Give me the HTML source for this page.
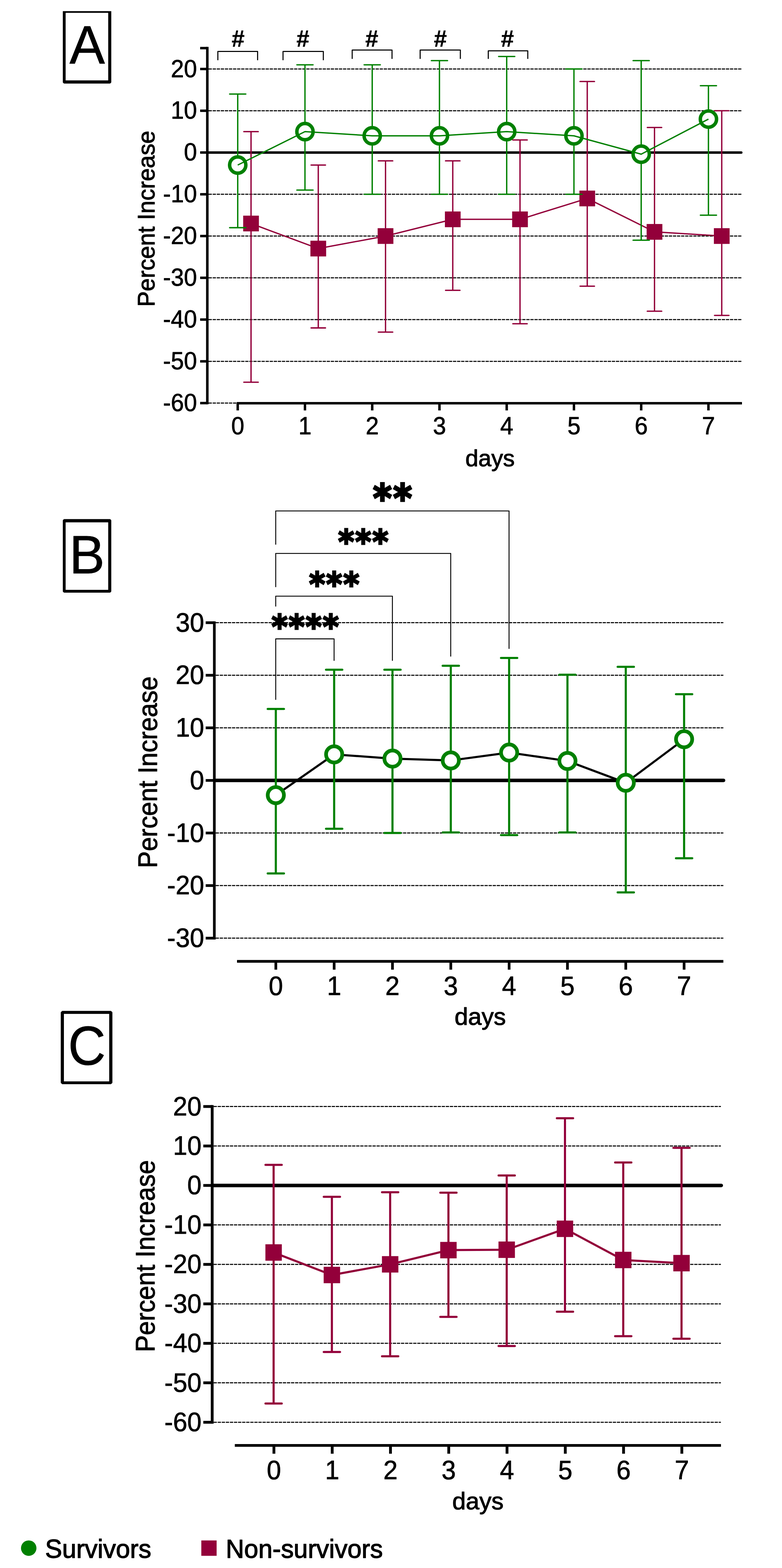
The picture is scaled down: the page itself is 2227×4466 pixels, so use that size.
<!DOCTYPE html>
<html lang="en"><head><meta charset="utf-8"><title>Percent Increase over days: Survivors vs Non-survivors</title>
<style>html,body{margin:0;padding:0;background:#fff}svg{display:block}text{fill:#000;stroke:#000;stroke-linejoin:round}.t{font-family:"Liberation Sans",Arial,Helvetica,sans-serif;stroke-width:1.1px}.h{font-family:"Liberation Sans",Arial,Helvetica,sans-serif;font-weight:bold;stroke-width:.7px}.s{font-family:"DejaVu Sans","Liberation Sans",sans-serif;font-weight:bold;stroke-width:2.4px;stroke-linejoin:miter}</style>
</head><body>
<svg width="2227" height="4466" viewBox="0 0 2227 4466">
<rect width="2227" height="4466" fill="#fff"/>
<path d="M178.9 31.7 L316.9 31.7 L316.9 234.8 L313.7 238 L182.1 238 L178.9 234.8Z M186.9 36.6 V228.9 H308.2 V36.6Z" fill="#000" fill-rule="evenodd"/>
<text class="t" transform="translate(248.4 181.3) scale(0.98 1)" font-size="154" text-anchor="middle">A</text>
<path d="M182.1 1478.6 L313.7 1478.6 L316.9 1481.8 L316.9 1684.8 L313.7 1688 L182.1 1688 L178.9 1684.8 L178.9 1481.8Z M186.9 1487.7 V1679.9 H308.2 V1487.7Z" fill="#000" fill-rule="evenodd"/>
<text class="t" transform="translate(247.8 1632.5) scale(0.98 1)" font-size="154.5" text-anchor="middle">B</text>
<path d="M177 2879.2 L316.1 2879.2 L320.1 2883.2 L320.1 3084 L316.1 3088 L177 3088 L173 3084 L173 2883.2Z M182 2887.7 V3079.9 H311 V2887.7Z" fill="#000" fill-rule="evenodd"/>
<text class="t" transform="translate(247.5 3031.6) scale(0.955 1)" font-size="155" text-anchor="middle">C</text>
<line x1="594" y1="196.5" x2="2113" y2="196.5" stroke="#000" stroke-width="3" stroke-dasharray="9.3 2.3"/>
<line x1="594" y1="315.45" x2="2113" y2="315.45" stroke="#000" stroke-width="3" stroke-dasharray="9.3 2.3"/>
<line x1="594" y1="553.35" x2="2113" y2="553.35" stroke="#000" stroke-width="3" stroke-dasharray="9.3 2.3"/>
<line x1="594" y1="672.3" x2="2113" y2="672.3" stroke="#000" stroke-width="3" stroke-dasharray="9.3 2.3"/>
<line x1="594" y1="791.25" x2="2113" y2="791.25" stroke="#000" stroke-width="3" stroke-dasharray="9.3 2.3"/>
<line x1="594" y1="910.2" x2="2113" y2="910.2" stroke="#000" stroke-width="3" stroke-dasharray="9.3 2.3"/>
<line x1="594" y1="1029.15" x2="2113" y2="1029.15" stroke="#000" stroke-width="3" stroke-dasharray="9.3 2.3"/>
<line x1="594" y1="1148.1" x2="676" y2="1148.1" stroke="#000" stroke-width="3" stroke-dasharray="9.3 2.3"/>
<line x1="594" y1="434.4" x2="2111" y2="434.4" stroke="#000" stroke-width="7" stroke-linecap="round"/>
<line x1="590.4" y1="133.52" x2="590.4" y2="1151.6" stroke="#000" stroke-width="7.2" stroke-linecap="butt"/>
<line x1="570" y1="137.02" x2="590.4" y2="137.02" stroke="#000" stroke-width="7" stroke-linecap="butt"/>
<line x1="570" y1="196.5" x2="590.4" y2="196.5" stroke="#000" stroke-width="7" stroke-linecap="butt"/>
<line x1="570" y1="315.45" x2="590.4" y2="315.45" stroke="#000" stroke-width="7" stroke-linecap="butt"/>
<line x1="570" y1="434.4" x2="590.4" y2="434.4" stroke="#000" stroke-width="7" stroke-linecap="butt"/>
<line x1="570" y1="553.35" x2="590.4" y2="553.35" stroke="#000" stroke-width="7" stroke-linecap="butt"/>
<line x1="570" y1="672.3" x2="590.4" y2="672.3" stroke="#000" stroke-width="7" stroke-linecap="butt"/>
<line x1="570" y1="791.25" x2="590.4" y2="791.25" stroke="#000" stroke-width="7" stroke-linecap="butt"/>
<line x1="570" y1="910.2" x2="590.4" y2="910.2" stroke="#000" stroke-width="7" stroke-linecap="butt"/>
<line x1="570" y1="1029.15" x2="590.4" y2="1029.15" stroke="#000" stroke-width="7" stroke-linecap="butt"/>
<line x1="570" y1="1148.1" x2="590.4" y2="1148.1" stroke="#000" stroke-width="7" stroke-linecap="butt"/>
<text class="t" transform="translate(561 219.5) scale(0.963 1)" font-size="69.5" text-anchor="end">20</text>
<text class="t" transform="translate(561 338.45) scale(0.963 1)" font-size="69.5" text-anchor="end">10</text>
<text class="t" transform="translate(561 457.4) scale(0.963 1)" font-size="69.5" text-anchor="end">0</text>
<text class="t" transform="translate(561 576.35) scale(0.963 1)" font-size="69.5" text-anchor="end">-10</text>
<text class="t" transform="translate(561 695.3) scale(0.963 1)" font-size="69.5" text-anchor="end">-20</text>
<text class="t" transform="translate(561 814.25) scale(0.963 1)" font-size="69.5" text-anchor="end">-30</text>
<text class="t" transform="translate(561 933.2) scale(0.963 1)" font-size="69.5" text-anchor="end">-40</text>
<text class="t" transform="translate(561 1052.15) scale(0.963 1)" font-size="69.5" text-anchor="end">-50</text>
<text class="t" transform="translate(561 1171.1) scale(0.963 1)" font-size="69.5" text-anchor="end">-60</text>
<line x1="674" y1="1148.4" x2="2113" y2="1148.4" stroke="#000" stroke-width="7" stroke-linecap="butt"/>
<line x1="677" y1="1148.4" x2="677" y2="1169" stroke="#000" stroke-width="7" stroke-linecap="butt"/>
<text class="t" transform="translate(677 1237.1) scale(0.963 1)" font-size="69.5" text-anchor="middle">0</text>
<line x1="868.5" y1="1148.4" x2="868.5" y2="1169" stroke="#000" stroke-width="7" stroke-linecap="butt"/>
<text class="t" transform="translate(868.5 1237.1) scale(0.963 1)" font-size="69.5" text-anchor="middle">1</text>
<line x1="1060" y1="1148.4" x2="1060" y2="1169" stroke="#000" stroke-width="7" stroke-linecap="butt"/>
<text class="t" transform="translate(1060 1237.1) scale(0.963 1)" font-size="69.5" text-anchor="middle">2</text>
<line x1="1251.5" y1="1148.4" x2="1251.5" y2="1169" stroke="#000" stroke-width="7" stroke-linecap="butt"/>
<text class="t" transform="translate(1251.5 1237.1) scale(0.963 1)" font-size="69.5" text-anchor="middle">3</text>
<line x1="1443" y1="1148.4" x2="1443" y2="1169" stroke="#000" stroke-width="7" stroke-linecap="butt"/>
<text class="t" transform="translate(1443 1237.1) scale(0.963 1)" font-size="69.5" text-anchor="middle">4</text>
<line x1="1634.5" y1="1148.4" x2="1634.5" y2="1169" stroke="#000" stroke-width="7" stroke-linecap="butt"/>
<text class="t" transform="translate(1634.5 1237.1) scale(0.963 1)" font-size="69.5" text-anchor="middle">5</text>
<line x1="1826" y1="1148.4" x2="1826" y2="1169" stroke="#000" stroke-width="7" stroke-linecap="butt"/>
<text class="t" transform="translate(1826 1237.1) scale(0.963 1)" font-size="69.5" text-anchor="middle">6</text>
<line x1="2017.5" y1="1148.4" x2="2017.5" y2="1169" stroke="#000" stroke-width="7" stroke-linecap="butt"/>
<text class="t" transform="translate(2017.5 1237.1) scale(0.963 1)" font-size="69.5" text-anchor="middle">7</text>
<text class="t" transform="translate(1395.6 1328.2)" font-size="66.5" text-anchor="middle" style="stroke-width:1.5px">days</text>
<text class="t" transform="translate(439.6 623) rotate(-90) scale(0.956 1)" font-size="69.4" text-anchor="middle" style="stroke-width:1.5px">Percent Increase</text>
<line x1="714.9" y1="374.92" x2="714.9" y2="1088.62" stroke="#93003A" stroke-width="3.8" stroke-linecap="butt"/>
<line x1="694.4" y1="374.92" x2="735.4" y2="374.92" stroke="#93003A" stroke-width="3.8" stroke-linecap="round"/>
<line x1="694.4" y1="1088.62" x2="735.4" y2="1088.62" stroke="#93003A" stroke-width="3.8" stroke-linecap="round"/>
<line x1="906.4" y1="470.08" x2="906.4" y2="933.99" stroke="#93003A" stroke-width="3.8" stroke-linecap="butt"/>
<line x1="885.9" y1="470.08" x2="926.9" y2="470.08" stroke="#93003A" stroke-width="3.8" stroke-linecap="round"/>
<line x1="885.9" y1="933.99" x2="926.9" y2="933.99" stroke="#93003A" stroke-width="3.8" stroke-linecap="round"/>
<line x1="1097.9" y1="458.19" x2="1097.9" y2="945.88" stroke="#93003A" stroke-width="3.8" stroke-linecap="butt"/>
<line x1="1077.4" y1="458.19" x2="1118.4" y2="458.19" stroke="#93003A" stroke-width="3.8" stroke-linecap="round"/>
<line x1="1077.4" y1="945.88" x2="1118.4" y2="945.88" stroke="#93003A" stroke-width="3.8" stroke-linecap="round"/>
<line x1="1289.4" y1="458.19" x2="1289.4" y2="826.93" stroke="#93003A" stroke-width="3.8" stroke-linecap="butt"/>
<line x1="1268.9" y1="458.19" x2="1309.9" y2="458.19" stroke="#93003A" stroke-width="3.8" stroke-linecap="round"/>
<line x1="1268.9" y1="826.93" x2="1309.9" y2="826.93" stroke="#93003A" stroke-width="3.8" stroke-linecap="round"/>
<line x1="1480.9" y1="398.71" x2="1480.9" y2="922.1" stroke="#93003A" stroke-width="3.8" stroke-linecap="butt"/>
<line x1="1460.4" y1="398.71" x2="1501.4" y2="398.71" stroke="#93003A" stroke-width="3.8" stroke-linecap="round"/>
<line x1="1460.4" y1="922.1" x2="1501.4" y2="922.1" stroke="#93003A" stroke-width="3.8" stroke-linecap="round"/>
<line x1="1672.4" y1="232.18" x2="1672.4" y2="815.04" stroke="#93003A" stroke-width="3.8" stroke-linecap="butt"/>
<line x1="1651.9" y1="232.18" x2="1692.9" y2="232.18" stroke="#93003A" stroke-width="3.8" stroke-linecap="round"/>
<line x1="1651.9" y1="815.04" x2="1692.9" y2="815.04" stroke="#93003A" stroke-width="3.8" stroke-linecap="round"/>
<line x1="1863.9" y1="363.03" x2="1863.9" y2="886.41" stroke="#93003A" stroke-width="3.8" stroke-linecap="butt"/>
<line x1="1843.4" y1="363.03" x2="1884.4" y2="363.03" stroke="#93003A" stroke-width="3.8" stroke-linecap="round"/>
<line x1="1843.4" y1="886.41" x2="1884.4" y2="886.41" stroke="#93003A" stroke-width="3.8" stroke-linecap="round"/>
<line x1="2055.4" y1="315.45" x2="2055.4" y2="898.3" stroke="#93003A" stroke-width="3.8" stroke-linecap="butt"/>
<line x1="2034.9" y1="315.45" x2="2075.9" y2="315.45" stroke="#93003A" stroke-width="3.8" stroke-linecap="round"/>
<line x1="2034.9" y1="898.3" x2="2075.9" y2="898.3" stroke="#93003A" stroke-width="3.8" stroke-linecap="round"/>
<polyline points="714.9,636.62 906.4,707.98 1097.9,672.3 1289.4,624.72 1480.9,624.72 1672.4,565.25 1863.9,660.4 2055.4,672.3" fill="none" stroke="#93003A" stroke-width="3.8" stroke-linejoin="round"/>
<rect x="692.5" y="614.22" width="44.8" height="44.8" fill="#93003A"/>
<rect x="884" y="685.58" width="44.8" height="44.8" fill="#93003A"/>
<rect x="1075.5" y="649.9" width="44.8" height="44.8" fill="#93003A"/>
<rect x="1267" y="602.32" width="44.8" height="44.8" fill="#93003A"/>
<rect x="1458.5" y="602.32" width="44.8" height="44.8" fill="#93003A"/>
<rect x="1650" y="542.85" width="44.8" height="44.8" fill="#93003A"/>
<rect x="1841.5" y="638" width="44.8" height="44.8" fill="#93003A"/>
<rect x="2033" y="649.9" width="44.8" height="44.8" fill="#93003A"/>
<line x1="677" y1="267.87" x2="677" y2="648.51" stroke="#008000" stroke-width="3.8" stroke-linecap="butt"/>
<line x1="654" y1="267.87" x2="700" y2="267.87" stroke="#008000" stroke-width="3.8" stroke-linecap="round"/>
<line x1="654" y1="648.51" x2="700" y2="648.51" stroke="#008000" stroke-width="3.8" stroke-linecap="round"/>
<line x1="868.5" y1="184.6" x2="868.5" y2="541.45" stroke="#008000" stroke-width="3.8" stroke-linecap="butt"/>
<line x1="845.5" y1="184.6" x2="891.5" y2="184.6" stroke="#008000" stroke-width="3.8" stroke-linecap="round"/>
<line x1="845.5" y1="541.45" x2="891.5" y2="541.45" stroke="#008000" stroke-width="3.8" stroke-linecap="round"/>
<line x1="1060" y1="184.6" x2="1060" y2="553.35" stroke="#008000" stroke-width="3.8" stroke-linecap="butt"/>
<line x1="1037" y1="184.6" x2="1083" y2="184.6" stroke="#008000" stroke-width="3.8" stroke-linecap="round"/>
<line x1="1037" y1="553.35" x2="1083" y2="553.35" stroke="#008000" stroke-width="3.8" stroke-linecap="round"/>
<line x1="1251.5" y1="172.71" x2="1251.5" y2="553.35" stroke="#008000" stroke-width="3.8" stroke-linecap="butt"/>
<line x1="1228.5" y1="172.71" x2="1274.5" y2="172.71" stroke="#008000" stroke-width="3.8" stroke-linecap="round"/>
<line x1="1228.5" y1="553.35" x2="1274.5" y2="553.35" stroke="#008000" stroke-width="3.8" stroke-linecap="round"/>
<line x1="1443" y1="160.81" x2="1443" y2="553.35" stroke="#008000" stroke-width="3.8" stroke-linecap="butt"/>
<line x1="1420" y1="160.81" x2="1466" y2="160.81" stroke="#008000" stroke-width="3.8" stroke-linecap="round"/>
<line x1="1420" y1="553.35" x2="1466" y2="553.35" stroke="#008000" stroke-width="3.8" stroke-linecap="round"/>
<line x1="1634.5" y1="196.5" x2="1634.5" y2="553.35" stroke="#008000" stroke-width="3.8" stroke-linecap="butt"/>
<line x1="1611.5" y1="196.5" x2="1657.5" y2="196.5" stroke="#008000" stroke-width="3.8" stroke-linecap="round"/>
<line x1="1611.5" y1="553.35" x2="1657.5" y2="553.35" stroke="#008000" stroke-width="3.8" stroke-linecap="round"/>
<line x1="1826" y1="172.71" x2="1826" y2="684.19" stroke="#008000" stroke-width="3.8" stroke-linecap="butt"/>
<line x1="1803" y1="172.71" x2="1849" y2="172.71" stroke="#008000" stroke-width="3.8" stroke-linecap="round"/>
<line x1="1803" y1="684.19" x2="1849" y2="684.19" stroke="#008000" stroke-width="3.8" stroke-linecap="round"/>
<line x1="2017.5" y1="244.08" x2="2017.5" y2="612.82" stroke="#008000" stroke-width="3.8" stroke-linecap="butt"/>
<line x1="1994.5" y1="244.08" x2="2040.5" y2="244.08" stroke="#008000" stroke-width="3.8" stroke-linecap="round"/>
<line x1="1994.5" y1="612.82" x2="2040.5" y2="612.82" stroke="#008000" stroke-width="3.8" stroke-linecap="round"/>
<circle cx="677" cy="470.08" r="23.1" fill="#fff" stroke="#008000" stroke-width="9.9"/>
<circle cx="868.5" cy="374.92" r="23.1" fill="#fff" stroke="#008000" stroke-width="9.9"/>
<circle cx="1060" cy="386.82" r="23.1" fill="#fff" stroke="#008000" stroke-width="9.9"/>
<circle cx="1251.5" cy="386.82" r="23.1" fill="#fff" stroke="#008000" stroke-width="9.9"/>
<circle cx="1443" cy="374.92" r="23.1" fill="#fff" stroke="#008000" stroke-width="9.9"/>
<circle cx="1634.5" cy="386.82" r="23.1" fill="#fff" stroke="#008000" stroke-width="9.9"/>
<circle cx="1826" cy="439.16" r="23.1" fill="#fff" stroke="#008000" stroke-width="9.9"/>
<circle cx="2017.5" cy="339.24" r="23.1" fill="#fff" stroke="#008000" stroke-width="9.9"/>
<polyline points="677,470.08 868.5,374.92 1060,386.82 1251.5,386.82 1443,374.92 1634.5,386.82 1826,439.16 2017.5,339.24" fill="none" stroke="#008000" stroke-width="3.8" stroke-linejoin="round"/>
<polyline points="620.4,171.6 620.4,146.4 733.6,146.4 733.6,171.6" fill="none" stroke="#000" stroke-width="3" stroke-linejoin="round"/>
<text class="h" transform="translate(678 133.3)" font-size="66" text-anchor="middle">#</text>
<polyline points="806,171.6 806,146.4 920.8,146.4 920.8,171.6" fill="none" stroke="#000" stroke-width="3" stroke-linejoin="round"/>
<text class="h" transform="translate(862.5 133.3)" font-size="66" text-anchor="middle">#</text>
<polyline points="1003,167.8 1003,142.6 1116.4,142.6 1116.4,167.8" fill="none" stroke="#000" stroke-width="3" stroke-linejoin="round"/>
<text class="h" transform="translate(1058.8 133.3)" font-size="66" text-anchor="middle">#</text>
<polyline points="1196.5,167.8 1196.5,142.6 1311,142.6 1311,167.8" fill="none" stroke="#000" stroke-width="3" stroke-linejoin="round"/>
<text class="h" transform="translate(1254 133.3)" font-size="66" text-anchor="middle">#</text>
<polyline points="1390.5,167.8 1390.5,144.8 1503,144.8 1503,167.8" fill="none" stroke="#000" stroke-width="3" stroke-linejoin="round"/>
<text class="h" transform="translate(1445 133.3)" font-size="66" text-anchor="middle">#</text>
<line x1="614.2" y1="1773.55" x2="2060" y2="1773.55" stroke="#000" stroke-width="3" stroke-dasharray="9.3 2.3"/>
<line x1="614.2" y1="1923.3" x2="2060" y2="1923.3" stroke="#000" stroke-width="3" stroke-dasharray="9.3 2.3"/>
<line x1="614.2" y1="2073.05" x2="2060" y2="2073.05" stroke="#000" stroke-width="3" stroke-dasharray="9.3 2.3"/>
<line x1="614.2" y1="2372.55" x2="2060" y2="2372.55" stroke="#000" stroke-width="3" stroke-dasharray="9.3 2.3"/>
<line x1="614.2" y1="2522.3" x2="2060" y2="2522.3" stroke="#000" stroke-width="3" stroke-dasharray="9.3 2.3"/>
<line x1="614.2" y1="2672.05" x2="2060" y2="2672.05" stroke="#000" stroke-width="3" stroke-dasharray="9.3 2.3"/>
<line x1="614.2" y1="2222.8" x2="2060.5" y2="2222.8" stroke="#000" stroke-width="10" stroke-linecap="round"/>
<line x1="610.4" y1="1769.7" x2="610.4" y2="2675.9" stroke="#000" stroke-width="7.6" stroke-linecap="butt"/>
<line x1="585.8" y1="1773.55" x2="610.4" y2="1773.55" stroke="#000" stroke-width="7.7" stroke-linecap="butt"/>
<line x1="585.8" y1="1923.3" x2="610.4" y2="1923.3" stroke="#000" stroke-width="7.7" stroke-linecap="butt"/>
<line x1="585.8" y1="2073.05" x2="610.4" y2="2073.05" stroke="#000" stroke-width="7.7" stroke-linecap="butt"/>
<line x1="585.8" y1="2222.8" x2="610.4" y2="2222.8" stroke="#000" stroke-width="7.7" stroke-linecap="butt"/>
<line x1="585.8" y1="2372.55" x2="610.4" y2="2372.55" stroke="#000" stroke-width="7.7" stroke-linecap="butt"/>
<line x1="585.8" y1="2522.3" x2="610.4" y2="2522.3" stroke="#000" stroke-width="7.7" stroke-linecap="butt"/>
<line x1="585.8" y1="2672.05" x2="610.4" y2="2672.05" stroke="#000" stroke-width="7.7" stroke-linecap="butt"/>
<text class="t" transform="translate(581.5 1798.55) scale(0.962 1)" font-size="76" text-anchor="end">30</text>
<text class="t" transform="translate(581.5 1948.3) scale(0.962 1)" font-size="76" text-anchor="end">20</text>
<text class="t" transform="translate(581.5 2098.05) scale(0.962 1)" font-size="76" text-anchor="end">10</text>
<text class="t" transform="translate(581.5 2247.8) scale(0.962 1)" font-size="76" text-anchor="end">0</text>
<text class="t" transform="translate(581.5 2397.55) scale(0.962 1)" font-size="76" text-anchor="end">-10</text>
<text class="t" transform="translate(581.5 2547.3) scale(0.962 1)" font-size="76" text-anchor="end">-20</text>
<text class="t" transform="translate(581.5 2697.05) scale(0.962 1)" font-size="76" text-anchor="end">-30</text>
<line x1="675" y1="2738.1" x2="2060" y2="2738.1" stroke="#000" stroke-width="7.7" stroke-linecap="butt"/>
<line x1="785.5" y1="2738.1" x2="785.5" y2="2761.8" stroke="#000" stroke-width="7.7" stroke-linecap="butt"/>
<text class="t" transform="translate(785.5 2833.7) scale(0.962 1)" font-size="76" text-anchor="middle">0</text>
<line x1="951.6" y1="2738.1" x2="951.6" y2="2761.8" stroke="#000" stroke-width="7.7" stroke-linecap="butt"/>
<text class="t" transform="translate(951.6 2833.7) scale(0.962 1)" font-size="76" text-anchor="middle">1</text>
<line x1="1117.7" y1="2738.1" x2="1117.7" y2="2761.8" stroke="#000" stroke-width="7.7" stroke-linecap="butt"/>
<text class="t" transform="translate(1117.7 2833.7) scale(0.962 1)" font-size="76" text-anchor="middle">2</text>
<line x1="1283.8" y1="2738.1" x2="1283.8" y2="2761.8" stroke="#000" stroke-width="7.7" stroke-linecap="butt"/>
<text class="t" transform="translate(1283.8 2833.7) scale(0.962 1)" font-size="76" text-anchor="middle">3</text>
<line x1="1449.9" y1="2738.1" x2="1449.9" y2="2761.8" stroke="#000" stroke-width="7.7" stroke-linecap="butt"/>
<text class="t" transform="translate(1449.9 2833.7) scale(0.962 1)" font-size="76" text-anchor="middle">4</text>
<line x1="1616" y1="2738.1" x2="1616" y2="2761.8" stroke="#000" stroke-width="7.7" stroke-linecap="butt"/>
<text class="t" transform="translate(1616 2833.7) scale(0.962 1)" font-size="76" text-anchor="middle">5</text>
<line x1="1782.1" y1="2738.1" x2="1782.1" y2="2761.8" stroke="#000" stroke-width="7.7" stroke-linecap="butt"/>
<text class="t" transform="translate(1782.1 2833.7) scale(0.962 1)" font-size="76" text-anchor="middle">6</text>
<line x1="1948.2" y1="2738.1" x2="1948.2" y2="2761.8" stroke="#000" stroke-width="7.7" stroke-linecap="butt"/>
<text class="t" transform="translate(1948.2 2833.7) scale(0.962 1)" font-size="76" text-anchor="middle">7</text>
<text class="t" transform="translate(1367.5 2919)" font-size="69.2" text-anchor="middle" style="stroke-width:1.5px">days</text>
<text class="t" transform="translate(446.6 2199.5) rotate(-90) scale(0.953 1)" font-size="75.8" text-anchor="middle" style="stroke-width:1.5px">Percent Increase</text>
<polyline points="785.2,1551.3 785.2,1455.3 1449.7,1455.3 1449.7,1848" fill="none" stroke="#000" stroke-width="2.6" stroke-linejoin="round"/>
<polyline points="785.2,1672.3 785.2,1576.3 1283.6,1576.3 1283.6,1870" fill="none" stroke="#000" stroke-width="2.6" stroke-linejoin="round"/>
<polyline points="785.2,1727.5 785.2,1698 1117.5,1698 1117.5,1882" fill="none" stroke="#000" stroke-width="2.6" stroke-linejoin="round"/>
<polyline points="785.2,1993.2 785.2,1819.6 951.4,1819.6 951.4,1882" fill="none" stroke="#000" stroke-width="2.6" stroke-linejoin="round"/>
<line x1="785.5" y1="2019.14" x2="785.5" y2="2487.86" stroke="#008000" stroke-width="6" stroke-linecap="butt"/>
<line x1="762.35" y1="2019.14" x2="808.65" y2="2019.14" stroke="#008000" stroke-width="6" stroke-linecap="round"/>
<line x1="762.35" y1="2487.86" x2="808.65" y2="2487.86" stroke="#008000" stroke-width="6" stroke-linecap="round"/>
<line x1="951.6" y1="1907.58" x2="951.6" y2="2360.57" stroke="#008000" stroke-width="6" stroke-linecap="butt"/>
<line x1="928.45" y1="1907.58" x2="974.75" y2="1907.58" stroke="#008000" stroke-width="6" stroke-linecap="round"/>
<line x1="928.45" y1="2360.57" x2="974.75" y2="2360.57" stroke="#008000" stroke-width="6" stroke-linecap="round"/>
<line x1="1117.7" y1="1907.58" x2="1117.7" y2="2372.55" stroke="#008000" stroke-width="6" stroke-linecap="butt"/>
<line x1="1094.55" y1="1907.58" x2="1140.85" y2="1907.58" stroke="#008000" stroke-width="6" stroke-linecap="round"/>
<line x1="1094.55" y1="2372.55" x2="1140.85" y2="2372.55" stroke="#008000" stroke-width="6" stroke-linecap="round"/>
<line x1="1283.8" y1="1896.35" x2="1283.8" y2="2371.05" stroke="#008000" stroke-width="6" stroke-linecap="butt"/>
<line x1="1260.65" y1="1896.35" x2="1306.95" y2="1896.35" stroke="#008000" stroke-width="6" stroke-linecap="round"/>
<line x1="1260.65" y1="2371.05" x2="1306.95" y2="2371.05" stroke="#008000" stroke-width="6" stroke-linecap="round"/>
<line x1="1449.9" y1="1873.88" x2="1449.9" y2="2378.54" stroke="#008000" stroke-width="6" stroke-linecap="butt"/>
<line x1="1426.75" y1="1873.88" x2="1473.05" y2="1873.88" stroke="#008000" stroke-width="6" stroke-linecap="round"/>
<line x1="1426.75" y1="2378.54" x2="1473.05" y2="2378.54" stroke="#008000" stroke-width="6" stroke-linecap="round"/>
<line x1="1616" y1="1921.8" x2="1616" y2="2371.05" stroke="#008000" stroke-width="6" stroke-linecap="butt"/>
<line x1="1592.85" y1="1921.8" x2="1639.15" y2="1921.8" stroke="#008000" stroke-width="6" stroke-linecap="round"/>
<line x1="1592.85" y1="2371.05" x2="1639.15" y2="2371.05" stroke="#008000" stroke-width="6" stroke-linecap="round"/>
<line x1="1782.1" y1="1899.34" x2="1782.1" y2="2541.77" stroke="#008000" stroke-width="6" stroke-linecap="butt"/>
<line x1="1758.95" y1="1899.34" x2="1805.25" y2="1899.34" stroke="#008000" stroke-width="6" stroke-linecap="round"/>
<line x1="1758.95" y1="2541.77" x2="1805.25" y2="2541.77" stroke="#008000" stroke-width="6" stroke-linecap="round"/>
<line x1="1948.2" y1="1977.21" x2="1948.2" y2="2444.43" stroke="#008000" stroke-width="6" stroke-linecap="butt"/>
<line x1="1925.05" y1="1977.21" x2="1971.35" y2="1977.21" stroke="#008000" stroke-width="6" stroke-linecap="round"/>
<line x1="1925.05" y1="2444.43" x2="1971.35" y2="2444.43" stroke="#008000" stroke-width="6" stroke-linecap="round"/>
<polyline points="785.5,2264.73 951.6,2148.67 1117.7,2160.65 1283.8,2165.89 1449.9,2143.43 1616,2167.39 1782.1,2229.54 1948.2,2105.55" fill="none" stroke="#000" stroke-width="6" stroke-linejoin="round"/>
<circle cx="785.5" cy="2264.73" r="23.05" fill="#fff" stroke="#008000" stroke-width="10.6"/>
<circle cx="951.6" cy="2148.67" r="23.05" fill="#fff" stroke="#008000" stroke-width="10.6"/>
<circle cx="1117.7" cy="2160.65" r="23.05" fill="#fff" stroke="#008000" stroke-width="10.6"/>
<circle cx="1283.8" cy="2165.89" r="23.05" fill="#fff" stroke="#008000" stroke-width="10.6"/>
<circle cx="1449.9" cy="2143.43" r="23.05" fill="#fff" stroke="#008000" stroke-width="10.6"/>
<circle cx="1616" cy="2167.39" r="23.05" fill="#fff" stroke="#008000" stroke-width="10.6"/>
<circle cx="1782.1" cy="2229.54" r="23.05" fill="#fff" stroke="#008000" stroke-width="10.6"/>
<circle cx="1948.2" cy="2105.55" r="23.05" fill="#fff" stroke="#008000" stroke-width="10.6"/>
<text class="s" transform="translate(1119.9 1457.89) scale(0.965 1.05)" font-size="105" text-anchor="middle" letter-spacing="4.57" style="stroke-width:5.15px">**</text>
<text class="s" transform="translate(1036.09 1575.75) scale(0.965 1.05)" font-size="90" text-anchor="middle" letter-spacing="3.29" style="stroke-width:4.42px">***</text>
<text class="s" transform="translate(953.39 1697.25) scale(0.965 1.05)" font-size="90" text-anchor="middle" letter-spacing="3.29" style="stroke-width:4.42px">***</text>
<text class="s" transform="translate(870.59 1818.05) scale(0.965 1.05)" font-size="90" text-anchor="middle" letter-spacing="3.29" style="stroke-width:4.42px">****</text>
<line x1="608.3" y1="3151.56" x2="2053" y2="3151.56" stroke="#000" stroke-width="3" stroke-dasharray="9.3 2.3"/>
<line x1="608.3" y1="3263.98" x2="2053" y2="3263.98" stroke="#000" stroke-width="3" stroke-dasharray="9.3 2.3"/>
<line x1="608.3" y1="3488.82" x2="2053" y2="3488.82" stroke="#000" stroke-width="3" stroke-dasharray="9.3 2.3"/>
<line x1="608.3" y1="3601.24" x2="2053" y2="3601.24" stroke="#000" stroke-width="3" stroke-dasharray="9.3 2.3"/>
<line x1="608.3" y1="3713.66" x2="2053" y2="3713.66" stroke="#000" stroke-width="3" stroke-dasharray="9.3 2.3"/>
<line x1="608.3" y1="3826.08" x2="2053" y2="3826.08" stroke="#000" stroke-width="3" stroke-dasharray="9.3 2.3"/>
<line x1="608.3" y1="3938.5" x2="2053" y2="3938.5" stroke="#000" stroke-width="3" stroke-dasharray="9.3 2.3"/>
<line x1="608.3" y1="4050.92" x2="2053" y2="4050.92" stroke="#000" stroke-width="3" stroke-dasharray="9.3 2.3"/>
<line x1="608.3" y1="3376.4" x2="2054" y2="3376.4" stroke="#000" stroke-width="10" stroke-linecap="round"/>
<line x1="604.3" y1="3147.56" x2="604.3" y2="4054.92" stroke="#000" stroke-width="8" stroke-linecap="butt"/>
<line x1="579" y1="3151.56" x2="604.3" y2="3151.56" stroke="#000" stroke-width="8" stroke-linecap="butt"/>
<line x1="579" y1="3263.98" x2="604.3" y2="3263.98" stroke="#000" stroke-width="8" stroke-linecap="butt"/>
<line x1="579" y1="3376.4" x2="604.3" y2="3376.4" stroke="#000" stroke-width="8" stroke-linecap="butt"/>
<line x1="579" y1="3488.82" x2="604.3" y2="3488.82" stroke="#000" stroke-width="8" stroke-linecap="butt"/>
<line x1="579" y1="3601.24" x2="604.3" y2="3601.24" stroke="#000" stroke-width="8" stroke-linecap="butt"/>
<line x1="579" y1="3713.66" x2="604.3" y2="3713.66" stroke="#000" stroke-width="8" stroke-linecap="butt"/>
<line x1="579" y1="3826.08" x2="604.3" y2="3826.08" stroke="#000" stroke-width="8" stroke-linecap="butt"/>
<line x1="579" y1="3938.5" x2="604.3" y2="3938.5" stroke="#000" stroke-width="8" stroke-linecap="butt"/>
<line x1="579" y1="4050.92" x2="604.3" y2="4050.92" stroke="#000" stroke-width="8" stroke-linecap="butt"/>
<text class="t" transform="translate(574 3176.56) scale(0.962 1)" font-size="76" text-anchor="end">20</text>
<text class="t" transform="translate(574 3288.98) scale(0.962 1)" font-size="76" text-anchor="end">10</text>
<text class="t" transform="translate(574 3401.4) scale(0.962 1)" font-size="76" text-anchor="end">0</text>
<text class="t" transform="translate(574 3513.82) scale(0.962 1)" font-size="76" text-anchor="end">-10</text>
<text class="t" transform="translate(574 3626.24) scale(0.962 1)" font-size="76" text-anchor="end">-20</text>
<text class="t" transform="translate(574 3738.66) scale(0.962 1)" font-size="76" text-anchor="end">-30</text>
<text class="t" transform="translate(574 3851.08) scale(0.962 1)" font-size="76" text-anchor="end">-40</text>
<text class="t" transform="translate(574 3963.5) scale(0.962 1)" font-size="76" text-anchor="end">-50</text>
<text class="t" transform="translate(574 4075.92) scale(0.962 1)" font-size="76" text-anchor="end">-60</text>
<line x1="668.7" y1="4116.8" x2="2053.2" y2="4116.8" stroke="#000" stroke-width="7.8" stroke-linecap="butt"/>
<line x1="780.1" y1="4116.8" x2="780.1" y2="4140.5" stroke="#000" stroke-width="8" stroke-linecap="butt"/>
<text class="t" transform="translate(780.1 4212.9) scale(0.962 1)" font-size="76" text-anchor="middle">0</text>
<line x1="946.05" y1="4116.8" x2="946.05" y2="4140.5" stroke="#000" stroke-width="8" stroke-linecap="butt"/>
<text class="t" transform="translate(946.05 4212.9) scale(0.962 1)" font-size="76" text-anchor="middle">1</text>
<line x1="1112" y1="4116.8" x2="1112" y2="4140.5" stroke="#000" stroke-width="8" stroke-linecap="butt"/>
<text class="t" transform="translate(1112 4212.9) scale(0.962 1)" font-size="76" text-anchor="middle">2</text>
<line x1="1277.95" y1="4116.8" x2="1277.95" y2="4140.5" stroke="#000" stroke-width="8" stroke-linecap="butt"/>
<text class="t" transform="translate(1277.95 4212.9) scale(0.962 1)" font-size="76" text-anchor="middle">3</text>
<line x1="1443.9" y1="4116.8" x2="1443.9" y2="4140.5" stroke="#000" stroke-width="8" stroke-linecap="butt"/>
<text class="t" transform="translate(1443.9 4212.9) scale(0.962 1)" font-size="76" text-anchor="middle">4</text>
<line x1="1609.85" y1="4116.8" x2="1609.85" y2="4140.5" stroke="#000" stroke-width="8" stroke-linecap="butt"/>
<text class="t" transform="translate(1609.85 4212.9) scale(0.962 1)" font-size="76" text-anchor="middle">5</text>
<line x1="1775.8" y1="4116.8" x2="1775.8" y2="4140.5" stroke="#000" stroke-width="8" stroke-linecap="butt"/>
<text class="t" transform="translate(1775.8 4212.9) scale(0.962 1)" font-size="76" text-anchor="middle">6</text>
<line x1="1941.75" y1="4116.8" x2="1941.75" y2="4140.5" stroke="#000" stroke-width="8" stroke-linecap="butt"/>
<text class="t" transform="translate(1941.75 4212.9) scale(0.962 1)" font-size="76" text-anchor="middle">7</text>
<text class="t" transform="translate(1361 4298.7)" font-size="69.2" text-anchor="middle" style="stroke-width:1.5px">days</text>
<text class="t" transform="translate(440 3577.7) rotate(-90) scale(0.957 1)" font-size="75.6" text-anchor="middle" style="stroke-width:1.5px">Percent Increase</text>
<line x1="779.2" y1="3317.73" x2="779.2" y2="3997.49" stroke="#93003A" stroke-width="6" stroke-linecap="butt"/>
<line x1="756.05" y1="3317.73" x2="802.35" y2="3317.73" stroke="#93003A" stroke-width="6" stroke-linecap="round"/>
<line x1="756.05" y1="3997.49" x2="802.35" y2="3997.49" stroke="#93003A" stroke-width="6" stroke-linecap="round"/>
<line x1="945.15" y1="3408.81" x2="945.15" y2="3850.74" stroke="#93003A" stroke-width="6" stroke-linecap="butt"/>
<line x1="922" y1="3408.81" x2="968.3" y2="3408.81" stroke="#93003A" stroke-width="6" stroke-linecap="round"/>
<line x1="922" y1="3850.74" x2="968.3" y2="3850.74" stroke="#93003A" stroke-width="6" stroke-linecap="round"/>
<line x1="1111.1" y1="3395.77" x2="1111.1" y2="3863.11" stroke="#93003A" stroke-width="6" stroke-linecap="butt"/>
<line x1="1087.95" y1="3395.77" x2="1134.25" y2="3395.77" stroke="#93003A" stroke-width="6" stroke-linecap="round"/>
<line x1="1087.95" y1="3863.11" x2="1134.25" y2="3863.11" stroke="#93003A" stroke-width="6" stroke-linecap="round"/>
<line x1="1277.05" y1="3396.89" x2="1277.05" y2="3750.66" stroke="#93003A" stroke-width="6" stroke-linecap="butt"/>
<line x1="1253.9" y1="3396.89" x2="1300.2" y2="3396.89" stroke="#93003A" stroke-width="6" stroke-linecap="round"/>
<line x1="1253.9" y1="3750.66" x2="1300.2" y2="3750.66" stroke="#93003A" stroke-width="6" stroke-linecap="round"/>
<line x1="1443" y1="3348.09" x2="1443" y2="3833.87" stroke="#93003A" stroke-width="6" stroke-linecap="butt"/>
<line x1="1419.85" y1="3348.09" x2="1466.15" y2="3348.09" stroke="#93003A" stroke-width="6" stroke-linecap="round"/>
<line x1="1419.85" y1="3833.87" x2="1466.15" y2="3833.87" stroke="#93003A" stroke-width="6" stroke-linecap="round"/>
<line x1="1608.95" y1="3185.03" x2="1608.95" y2="3736.04" stroke="#93003A" stroke-width="6" stroke-linecap="butt"/>
<line x1="1585.8" y1="3185.03" x2="1632.1" y2="3185.03" stroke="#93003A" stroke-width="6" stroke-linecap="round"/>
<line x1="1585.8" y1="3736.04" x2="1632.1" y2="3736.04" stroke="#93003A" stroke-width="6" stroke-linecap="round"/>
<line x1="1774.9" y1="3310.98" x2="1774.9" y2="3805.76" stroke="#93003A" stroke-width="6" stroke-linecap="butt"/>
<line x1="1751.75" y1="3310.98" x2="1798.05" y2="3310.98" stroke="#93003A" stroke-width="6" stroke-linecap="round"/>
<line x1="1751.75" y1="3805.76" x2="1798.05" y2="3805.76" stroke="#93003A" stroke-width="6" stroke-linecap="round"/>
<line x1="1940.85" y1="3269.37" x2="1940.85" y2="3813.07" stroke="#93003A" stroke-width="6" stroke-linecap="butt"/>
<line x1="1917.7" y1="3269.37" x2="1964" y2="3269.37" stroke="#93003A" stroke-width="6" stroke-linecap="round"/>
<line x1="1917.7" y1="3813.07" x2="1964" y2="3813.07" stroke="#93003A" stroke-width="6" stroke-linecap="round"/>
<polyline points="779.2,3567.36 945.15,3631.46 1111.1,3601.1 1277.05,3560.62 1443,3559.49 1608.95,3499.89 1774.9,3588.73 1940.85,3597.73" fill="none" stroke="#93003A" stroke-width="6" stroke-linejoin="round"/>
<rect x="755.8" y="3543.96" width="46.8" height="46.8" fill="#93003A"/>
<rect x="921.75" y="3608.06" width="46.8" height="46.8" fill="#93003A"/>
<rect x="1087.7" y="3577.7" width="46.8" height="46.8" fill="#93003A"/>
<rect x="1253.65" y="3537.22" width="46.8" height="46.8" fill="#93003A"/>
<rect x="1419.6" y="3536.09" width="46.8" height="46.8" fill="#93003A"/>
<rect x="1585.55" y="3476.49" width="46.8" height="46.8" fill="#93003A"/>
<rect x="1751.5" y="3565.33" width="46.8" height="46.8" fill="#93003A"/>
<rect x="1917.45" y="3574.33" width="46.8" height="46.8" fill="#93003A"/>
<circle cx="81.8" cy="4409.4" r="22" fill="#008000"/>
<text class="t" transform="translate(128.6 4436.6) scale(0.985 1)" font-size="73.6" text-anchor="start" style="stroke-width:1.8px">Survivors</text>
<rect x="573.3" y="4387.5" width="43.6" height="43.8" fill="#93003A"/>
<text class="t" transform="translate(643 4436.6) scale(0.985 1)" font-size="73.6" text-anchor="start" style="stroke-width:1.8px">Non-survivors</text>
</svg>
</body></html>
